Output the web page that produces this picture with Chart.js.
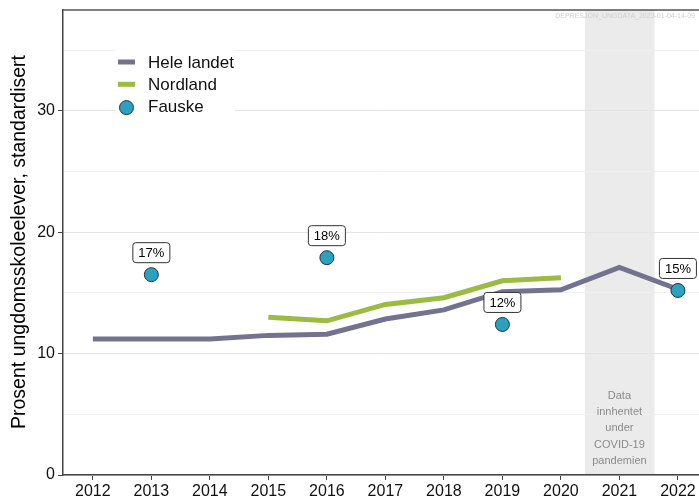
<!DOCTYPE html>
<html>
<head>
<meta charset="utf-8">
<script src="https://cdn.jsdelivr.net/npm/chart.js@4"></script>
<style>
  html, body { margin: 0; padding: 0; background: #fff; }
  #wrap { width: 699px; height: 500px; }
</style>
</head>
<body>
<div id="wrap"><canvas id="chart" width="699" height="500"></canvas></div>
<script>
const years = [2012, 2013, 2014, 2015, 2016, 2017, 2018, 2019, 2020, 2021, 2022];
const heleLandet = [11.2, 11.2, 11.2, 11.5, 11.6, 12.85, 13.6, 15.1, 15.25, 17.1, 15.3];
const nordland = [null, null, null, 13.0, 12.7, 14.05, 14.6, 16.0, 16.25, null, null];
const fauskeYears = [2013, 2016, 2019, 2022];
const fauskeValues = [16.5, 17.9, 12.4, 15.2];
const fauskeLabels = ['17%', '18%', '12%', '15%'];
const yTicks = [0, 10, 20, 30];
const covidNote = ['Data', 'innhentet', 'under', 'COVID-19', 'pandemien'];

const FONT = '"Liberation Sans", Arial, sans-serif';
const greyLine = '#74738f';
const greenLine = '#9bbb45';
const dotFill = '#2ba0bf';

const toXY = (xs, ys) => xs.map((x, i) => ({ x: x, y: ys[i] }));

// extra drawing: covid band, frame line, labels, legend, notes
const decorPlugin = {
  id: 'decor',
  beforeDraw(chart) {
    const { ctx, chartArea, scales } = chart;
    const x0 = scales.x.getPixelForValue(2020.41);
    const x1 = scales.x.getPixelForValue(2021.6);
    ctx.save();
    ctx.fillStyle = '#ebebeb';
    ctx.fillRect(x0, chartArea.top, x1 - x0, chartArea.bottom - chartArea.top);
    ctx.restore();
  },
  afterDraw(chart) {
    const { ctx, chartArea, scales } = chart;
    ctx.save();

    // top frame line
    ctx.strokeStyle = '#555';
    ctx.lineWidth = 1.5;
    ctx.beginPath();
    ctx.moveTo(chartArea.left, chartArea.top);
    ctx.lineTo(chart.width, chartArea.top);
    ctx.stroke();

    // watermark
    ctx.fillStyle = '#cfcfcf';
    ctx.font = '7px ' + FONT;
    ctx.textAlign = 'right';
    ctx.textBaseline = 'middle';
    ctx.fillText('DEPRESJON_UNGDATA_2023-01-04-14-09', 695, 16);

    // covid note
    ctx.fillStyle = '#8a8a8a';
    ctx.font = '11px ' + FONT;
    ctx.textAlign = 'center';
    const cx = scales.x.getPixelForValue(2021);
    covidNote.forEach((t, i) => ctx.fillText(t, cx, 396 + i * 16.2));

    // y axis title
    ctx.save();
    ctx.translate(20, 242);
    ctx.rotate(-Math.PI / 2);
    ctx.fillStyle = '#000';
    ctx.font = '19.5px ' + FONT;
    ctx.textAlign = 'center';
    ctx.textBaseline = 'middle';
    ctx.fillText('Prosent ungdomsskoleelever, standardisert', 0, 0);
    ctx.restore();

    // value labels above Fauske points
    ctx.font = '13px ' + FONT;
    ctx.textAlign = 'center';
    ctx.textBaseline = 'middle';
    fauskeYears.forEach((yr, i) => {
      const px = scales.x.getPixelForValue(yr);
      const py = scales.y.getPixelForValue(fauskeValues[i]) - 22;
      const w = 37, h = 20;
      ctx.beginPath();
      ctx.roundRect(px - w / 2, py - h / 2, w, h, 3);
      ctx.fillStyle = '#fff';
      ctx.fill();
      ctx.strokeStyle = '#333';
      ctx.lineWidth = 1;
      ctx.stroke();
      ctx.fillStyle = '#000';
      ctx.fillText(fauskeLabels[i], px, py + 1);
    });

    // legend
    ctx.fillStyle = '#fff';
    ctx.fillRect(115, 40, 120, 84);
    const items = [
      { label: 'Hele landet', color: greyLine, kind: 'line' },
      { label: 'Nordland', color: greenLine, kind: 'line' },
      { label: 'Fauske', color: dotFill, kind: 'dot' }
    ];
    ctx.font = '17px ' + FONT;
    ctx.textAlign = 'left';
    items.forEach((it, i) => {
      const y = 62 + i * 22.3;
      if (it.kind === 'line') {
        ctx.fillStyle = it.color;
        ctx.fillRect(118, y - 2.5, 17, 5);
      } else {
        ctx.beginPath();
        ctx.arc(126.5, y + 1, 7, 0, Math.PI * 2);
        ctx.fillStyle = it.color;
        ctx.fill();
        ctx.strokeStyle = '#1c3540';
        ctx.lineWidth = 1;
        ctx.stroke();
      }
      ctx.fillStyle = '#111';
      ctx.fillText(it.label, 148, y + 1);
    });

    ctx.restore();
  }
};

new Chart(document.getElementById('chart'), {
  type: 'line',
  data: {
    datasets: [
      {
        label: 'Fauske',
        type: 'scatter',
        data: toXY(fauskeYears, fauskeValues),
        backgroundColor: dotFill,
        borderColor: '#1c3540',
        borderWidth: 1,
        pointRadius: 7,
        order: 0
      },
      {
        label: 'Hele landet',
        data: toXY(years, heleLandet),
        borderColor: greyLine,
        borderWidth: 5,
        pointRadius: 0,
        tension: 0,
        borderCapStyle: 'butt',
        order: 1
      },
      {
        label: 'Nordland',
        data: toXY(years, nordland),
        borderColor: greenLine,
        borderWidth: 5,
        pointRadius: 0,
        tension: 0,
        spanGaps: false,
        borderCapStyle: 'butt',
        order: 2
      }
    ]
  },
  plugins: [decorPlugin],
  options: {
    responsive: false,
    animation: false,
    layout: { autoPadding: false, padding: { top: 10, right: 0, left: 0, bottom: 0 } },
    plugins: {
      legend: { display: false },
      tooltip: { enabled: false }
    },
    scales: {
      x: {
        type: 'linear',
        min: 2011.49,
        max: 2022.36,
        afterFit: s => { s.height = 25; s.paddingRight = 0; s.paddingLeft = 0; },
        border: { color: '#444', width: 1.5 },
        grid: { drawOnChartArea: false, drawTicks: true, tickLength: 5, tickColor: '#444' },
        ticks: {
          stepSize: 1,
          includeBounds: false,
          autoSkip: false,
          maxRotation: 0,
          padding: 2,
          color: '#111',
          font: { size: 16, family: FONT },
          callback: v => String(v)
        }
      },
      y: {
        min: 0,
        max: 38.3,
        afterFit: s => { s.width = 63; s.paddingTop = 0; s.paddingBottom = 0; },
        border: { color: '#444', width: 1.5 },
        grid: {
          color: ctx => (ctx.tick && ctx.tick.value % 10 === 0 ? '#e3e3e3' : '#f0f0f0'),
          lineWidth: 1,
          drawTicks: true,
          tickLength: 5,
          tickColor: ctx => (ctx.tick && yTicks.includes(ctx.tick.value) ? '#444' : 'rgba(0,0,0,0)')
        },
        ticks: {
          stepSize: 5,
          includeBounds: false,
          padding: 3,
          color: '#111',
          font: { size: 16, family: FONT },
          callback: v => (yTicks.includes(v) ? String(v) : '')
        }
      }
    }
  }
});
</script>
</body>
</html>
